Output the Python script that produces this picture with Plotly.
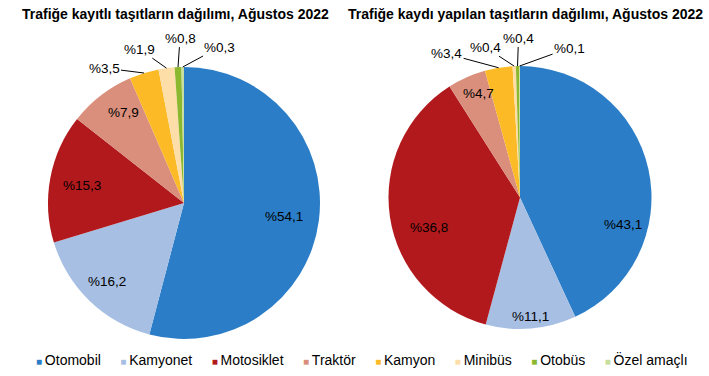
import math
import plotly.graph_objects as go

# ---------------- data ----------------
categories = ["Otomobil", "Kamyonet", "Motosiklet", "Traktör", "Kamyon", "Minibüs", "Otobüs", "Özel amaçlı"]
registered = [54.1, 16.2, 15.3, 7.9, 3.5, 1.9, 0.8, 0.3]      # Trafiğe kayıtlı
newly_registered = [43.1, 11.1, 36.8, 4.7, 3.4, 0.4, 0.4, 0.1]  # Trafiğe kaydı yapılan
titles = ["Trafiğe kayıtlı taşıtların dağılımı, Ağustos 2022",
          "Trafiğe kaydı yapılan taşıtların dağılımı, Ağustos 2022"]

# ---------------- styles / layout ----------------
colors = ["#2A7DC6", "#A6BFE3", "#B2191C", "#D98F7C", "#FBBA26", "#FDDEA8", "#8BB82F", "#C8DE9E"]
W, H = 709, 376
FONT = "Liberation Sans, Arial, sans-serif"
pies = [dict(cx=184, cy=203, r=136, title_x=175),
        dict(cx=520, cy=197.5, r=131.5, title_x=525)]
inside_frac = 0.80
outside_threshold = 4.0
# pixel nudges of the inside labels (per slice, large slices only)
inside_nudges = [[(-8, 0), (-2, 0), (5, 3), (6, -4)],
                 [(0, 50), (2, 14), (13, 14), (1, -8)]]
# text offsets (px) of outside labels from slice edge
outside_offsets = [[(-40, -5), (-27, -19), (2, -29), (37, -20)],
                   [(-52, -14), (-29, -19), (1, -28), (50, -18)]]


def fmt(v):
    return "%" + f"{v:.1f}".replace(".", ",")


def px(x):
    return x / W


def py(y):
    return 1 - y / H


fig = go.Figure()
annotations = []
label_font = dict(family=FONT, size=13.5, color="#000000")

for p, vals, title, nudges, offs in zip(pies, [registered, newly_registered], titles,
                                         inside_nudges, outside_offsets):
    cx, cy, r = p["cx"], p["cy"], p["r"]
    fig.add_trace(go.Pie(
        labels=categories, values=vals, sort=False, direction="clockwise", rotation=0,
        marker=dict(colors=colors, line=dict(width=0)),
        textinfo="none", showlegend=False, hoverinfo="label+percent",
        domain=dict(x=[px(cx - r), px(cx + r)], y=[py(cy + r), py(cy - r)]),
    ))
    total = sum(vals)
    cum = 0.0
    k_in = 0
    k_out = 0
    for v in vals:
        mid = (cum + v / 2) / total * 2 * math.pi
        cum += v
        s, c = math.sin(mid), math.cos(mid)
        if v >= outside_threshold:
            dx, dy = nudges[k_in]
            k_in += 1
            annotations.append(dict(
                x=px(cx + inside_frac * r * s + dx), y=py(cy - inside_frac * r * c + dy),
                xref="paper", yref="paper", xanchor="center", yanchor="middle",
                text=fmt(v), showarrow=False, font=label_font))
        else:
            ax, ay = offs[k_out]
            k_out += 1
            annotations.append(dict(
                x=px(cx + r * s), y=py(cy - r * c), xref="paper", yref="paper",
                xanchor="center", yanchor="middle",
                text=fmt(v), showarrow=True, arrowhead=0, arrowwidth=1, arrowcolor="#000000",
                ax=ax, ay=ay, standoff=0, font=label_font))
    annotations.append(dict(
        x=px(p["title_x"]), y=py(14), xref="paper", yref="paper",
        xanchor="center", yanchor="middle", text="<b>" + title + "</b>",
        showarrow=False, font=dict(family=FONT, size=14, color="#000000")))

# legend as one line of text
gap = "&nbsp;" * 5
legend_parts = []
for cat, col in zip(categories, colors):
    legend_parts.append(f"<span style='color:{col};font-size:10px'>■</span>&#8201;{cat}")
annotations.append(dict(
    x=px(362), y=py(359), xref="paper", yref="paper", xanchor="center", yanchor="middle",
    text=gap.join(legend_parts), showarrow=False,
    font=dict(family=FONT, size=14, color="#000000")))

fig.update_layout(
    width=W, height=H, margin=dict(l=0, r=0, t=0, b=0),
    paper_bgcolor="white", plot_bgcolor="white",
    annotations=annotations,
)
fig.write_html("out.html", config={"displayModeBar": False},
               post_script="document.body.style.margin='0';")
